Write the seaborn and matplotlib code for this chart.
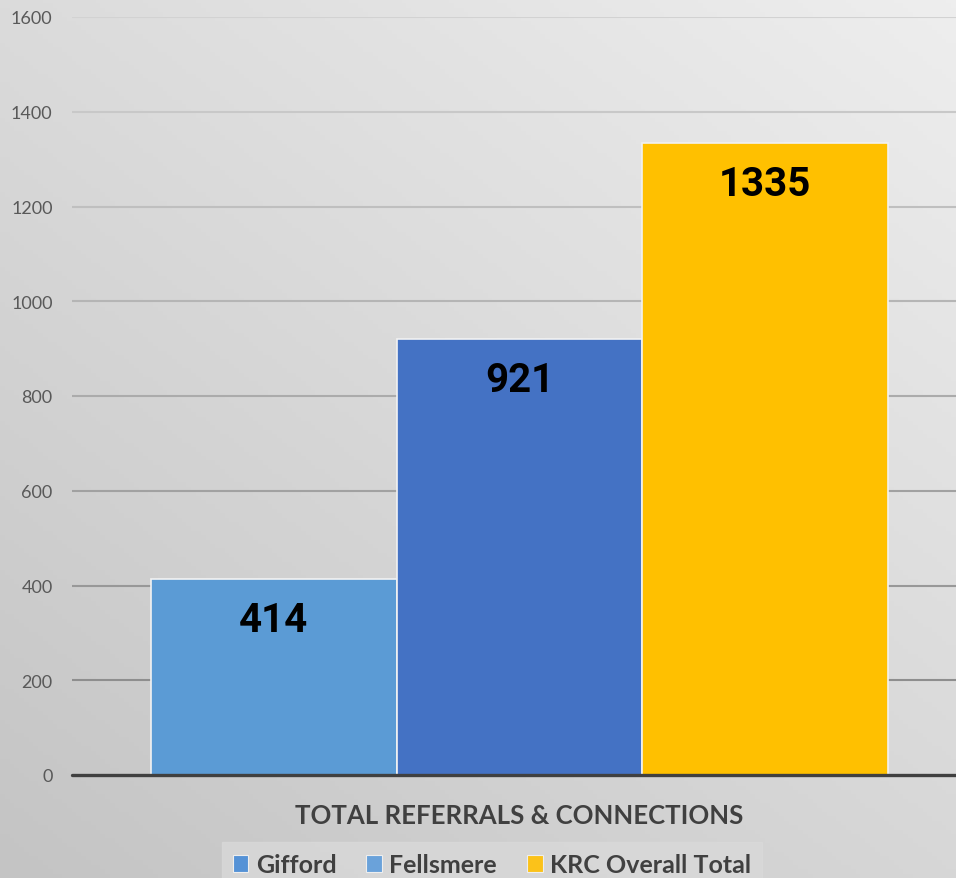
import numpy as np
import pandas as pd
import matplotlib
matplotlib.use("Agg")
import matplotlib.pyplot as plt
import seaborn as sns
from matplotlib.patches import Patch
from matplotlib.colors import LinearSegmentedColormap

# Data
category = ["TOTAL REFERRALS & CONNECTIONS"]
series = ["Gifford", "Fellsmere", "KRC Overall Total"]
values = [414, 921, 1335]
yticks = [0, 200, 400, 600, 800, 1000, 1200, 1400, 1600]

bar_colors = ["#5b9bd5", "#4472c4", "#ffc000"]
legend_colors = ["#5592d6", "#6aa2da", "#fbc21a"]

df = pd.DataFrame({
    "category": category * len(series),
    "series": series,
    "value": values,
})

sns.set_theme(style="white")
plt.rcParams["font.family"] = ["Lato", "DejaVu Sans"]

fig = plt.figure(figsize=(9.56, 8.79), dpi=100)

# Diagonal grey gradient background
bg = fig.add_axes([0, 0, 1, 1], zorder=-10)
yy, xx = np.mgrid[0:1:200j, 0:1:200j]
grad = 0.55 * (1 - yy) + 0.45 * xx  # lighter toward top-right
cmap = LinearSegmentedColormap.from_list("bg", ["#c4c4c4", "#eeeeee"])
bg.imshow(grad, cmap=cmap, aspect="auto", extent=[0, 1, 0, 1], origin="upper")
bg.axis("off")

ax = fig.add_axes([72 / 956, (879 - 776) / 879, 1 - 72 / 956, (776 - 18) / 879])
ax.set_facecolor("none")

sns.barplot(data=df, x="category", y="value", hue="series", palette=bar_colors,
            saturation=1, width=1.0, dodge=True, legend=False, ax=ax,
            edgecolor="#f2f2f2", linewidth=1.2, zorder=3)

ax.set_ylim(0, 1600)
ax.set_xlim(-0.5 - 79 / 735, 0.5 + 68 / 735)
ax.set_yticks(yticks)
ax.set_yticklabels([str(t) for t in yticks], fontsize=13, color="#595959")
ax.tick_params(axis="y", length=0, pad=14)
ax.tick_params(axis="x", length=0, pad=20)
ax.set_xticks([0])
ax.set_xticklabels(category, fontsize=18.5, color="#404040", fontweight="bold")
ax.set_xlabel("")
ax.set_ylabel("")
for s in ax.spines.values():
    s.set_visible(False)

# Horizontal gridlines, darker toward the bottom
grid_top = np.array([0xd2, 0xd2, 0xd2]) / 255
grid_bot = np.array([0x84, 0x84, 0x84]) / 255
for t in yticks[1:]:
    f = t / 1600
    c = grid_bot * (1 - f) + grid_top * f
    ax.axhline(t, color=c, lw=1.5, zorder=1)
ax.axhline(0, color="#404040", lw=2.4, zorder=4, clip_on=False)

# Value labels inside the top of each bar
for patch, v in zip(ax.patches, values):
    cx = patch.get_x() + patch.get_width() / 2
    ax.annotate(str(v), xy=(cx, v), xytext=(0, -29.5), textcoords="offset points",
                ha="center", va="center", fontsize=29, fontweight="bold",
                color="black", family=["Roboto", "DejaVu Sans"], zorder=5)

handles = [Patch(facecolor=c, edgecolor="#eeeeee", linewidth=0.8) for c in legend_colors]
leg = fig.legend(handles, series, loc="upper center",
                 bbox_to_anchor=(492 / 956, 1 - 843 / 879), ncol=3,
                 frameon=True, fancybox=False,
                 prop={"weight": "bold", "size": 18},
                 handlelength=0.62, handleheight=0.62, handletextpad=0.3,
                 columnspacing=1.2, borderpad=0.45, borderaxespad=0)
leg.get_frame().set_facecolor("#d9d9d9")
leg.get_frame().set_edgecolor("#d9d9d9")
for txt in leg.get_texts():
    txt.set_color("#404040")

fig.savefig("out.png", dpi=100)
